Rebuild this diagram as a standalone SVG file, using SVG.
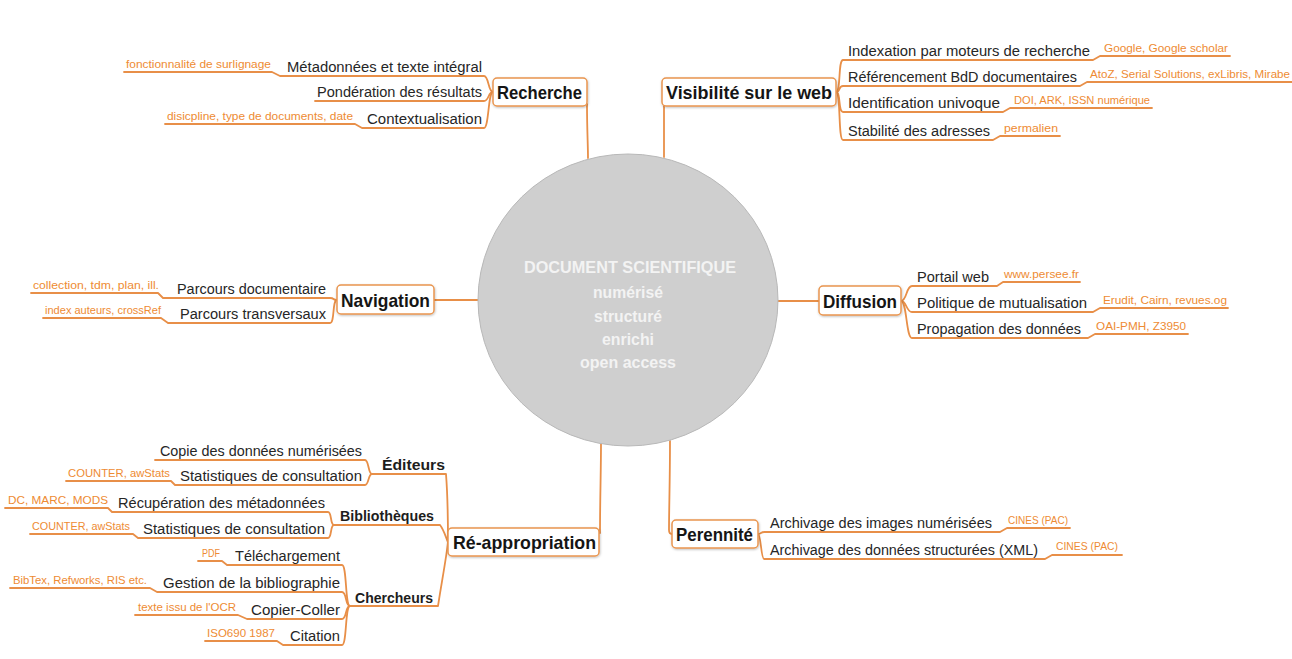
<svg xmlns="http://www.w3.org/2000/svg" width="1292" height="659" viewBox="0 0 1292 659">
<style>
.ln{fill:none;stroke:#e88f48;stroke-width:1.8;stroke-linecap:round;stroke-linejoin:round}
.box{fill:#fff;stroke:#e9954f;stroke-width:1.5}
text{font-family:"Liberation Sans",Arial,sans-serif}
.t{font-size:15.5px;fill:#262626}
.e{text-anchor:end}
.a{font-size:11px;fill:#ee8b33}
.h{font-weight:bold;font-size:19px;fill:#151515}
.s{font-weight:bold;font-size:15px;fill:#1d1d1d}
.c{font-size:17px;font-weight:bold;fill:#f3f3f3;text-anchor:middle}
</style>
<defs>
<filter id="sh" x="-10%" y="-20%" width="120%" height="150%">
<feDropShadow dx="0.5" dy="1" stdDeviation="1" flood-color="#000" flood-opacity="0.25"/>
</filter>
</defs>
<rect width="1292" height="659" fill="#fff"/>

<g id="connectors">
<path class="ln" d="M587,104 C587,130 588,145 588,158"/>
<path class="ln" d="M664,104 C664,130 664,145 664,157"/>
<path class="ln" d="M434,300 L479,300"/>
<path class="ln" d="M778,301 L819,301"/>
<path class="ln" d="M600,533 C600,500 601,470 601,444"/>
<path class="ln" d="M670,441 C670,480 669,510 669,530 C669,533 670,534 672,534"/>
<path class="ln" d="M124,72 L272,72 L280,76 L484,76 C489,76 488,92 493,92"/>
<path class="ln" d="M315,101 L484,101 C489,101 488,92 493,92"/>
<path class="ln" d="M165,124 L355,124 L362,128 L484,128 C489,128 488,92 493,92"/>
<path class="ln" d="M836,92 C841,92 838,60 843,60 L1093,60 L1100,56 L1230,56"/>
<path class="ln" d="M836,92 C841,92 838,86 843,86 L1080,86 L1087,82 L1292,82"/>
<path class="ln" d="M836,92 C841,92 838,112 843,112 L1003,112 L1010,108 L1152,108"/>
<path class="ln" d="M836,92 C841,92 838,140 843,140 L993,140 L1000,136 L1060,136"/>
<path class="ln" d="M31,293 L158,293 L163,298 L330,298 C335,298 332,300 337,300"/>
<path class="ln" d="M43,318 L161,318 L168,323 L330,323 C335,323 332,300 337,300"/>
<path class="ln" d="M901,301 C907,301 906,286 912,286 L997,286 L1003,282 L1080,282"/>
<path class="ln" d="M901,301 C907,301 906,312 912,312 L1093,312 L1100,308 L1228,308"/>
<path class="ln" d="M901,301 C907,301 906,338 912,338 L1088,338 L1095,334 L1188,334"/>
<path class="ln" d="M758,534 C761,534 761,532 764,532 L1000,532 L1007,528 L1070,528"/>
<path class="ln" d="M758,534 C761,534 761,559 764,559 L1045,559 L1052,555 L1122,555"/>
<path class="ln" d="M372,474 L446,474 C448,500 448,530 448,542"/>
<path class="ln" d="M334,525 L440,525 C444,530 446,538 448,542"/>
<path class="ln" d="M350,606 L438,606 C442,580 446,560 448,542"/>
<path class="ln" d="M155,460 L365,460 C369,460 368,474 372,474"/>
<path class="ln" d="M66,481 L171,481 L175,485 L365,485 C369,485 368,474 372,474"/>
<path class="ln" d="M5,508 L108,508 L112,512 L328,512 C332,512 330,525 334,525"/>
<path class="ln" d="M30,534 L133,534 L138,538 L328,538 C332,538 330,525 334,525"/>
<path class="ln" d="M198,561 L222,561 L227,565 L342,565 C347,565 345,606 350,606"/>
<path class="ln" d="M10,588 L150,588 L157,592 L342,592 C347,592 345,606 350,606"/>
<path class="ln" d="M135,615 L238,615 L247,619 L342,619 C347,619 345,606 350,606"/>
<path class="ln" d="M205,641 L277,641 L283,645 L342,645 C347,645 345,606 350,606"/>
</g>

<g id="centre">
<ellipse cx="628" cy="300" rx="150" ry="146" fill="#cfcfcf" stroke="#b8b8b8" stroke-width="1"/>
<text class="c" x="630" y="273" textLength="212" lengthAdjust="spacingAndGlyphs">DOCUMENT SCIENTIFIQUE</text>
<text class="c" x="628" y="298" textLength="70" lengthAdjust="spacingAndGlyphs">numérisé</text>
<text class="c" x="628" y="322" textLength="68" lengthAdjust="spacingAndGlyphs">structuré</text>
<text class="c" x="628" y="345" textLength="52" lengthAdjust="spacingAndGlyphs">enrichi</text>
<text class="c" x="628" y="368" textLength="96" lengthAdjust="spacingAndGlyphs">open access</text>
</g>

<g id="recherche">
<rect class="box" x="493" y="78" width="94" height="28" rx="4" filter="url(#sh)"/>
<text class="h" x="497" y="98.5" textLength="85" lengthAdjust="spacingAndGlyphs">Recherche</text>
<text class="t e" x="482" y="72" textLength="195" lengthAdjust="spacingAndGlyphs">Métadonnées et texte intégral</text>
<text class="a" x="126" y="68" textLength="145" lengthAdjust="spacingAndGlyphs">fonctionnalité de surlignage</text>
<text class="t e" x="482" y="97" textLength="165" lengthAdjust="spacingAndGlyphs">Pondération des résultats</text>
<text class="t e" x="482" y="124" textLength="115" lengthAdjust="spacingAndGlyphs">Contextualisation</text>
<text class="a" x="167" y="120" textLength="186" lengthAdjust="spacingAndGlyphs">disicpline, type de documents, date</text>
</g>

<g id="visibilite">
<rect class="box" x="662" y="78" width="174" height="28" rx="4" filter="url(#sh)"/>
<text class="h" x="666" y="98.5" textLength="166" lengthAdjust="spacingAndGlyphs">Visibilité sur le web</text>
<text class="t" x="848" y="56" textLength="242" lengthAdjust="spacingAndGlyphs">Indexation par moteurs de recherche</text>
<text class="a" x="1104" y="52" textLength="124" lengthAdjust="spacingAndGlyphs">Google, Google scholar</text>
<text class="t" x="848" y="82" textLength="229" lengthAdjust="spacingAndGlyphs">Référencement BdD documentaires</text>
<text class="a" x="1090" y="78" textLength="200" lengthAdjust="spacingAndGlyphs">AtoZ, Serial Solutions, exLibris, Mirabe</text>
<text class="t" x="848" y="108" textLength="152" lengthAdjust="spacingAndGlyphs">Identification univoque</text>
<text class="a" x="1014" y="104" textLength="136" lengthAdjust="spacingAndGlyphs">DOI, ARK, ISSN numérique</text>
<text class="t" x="848" y="136" textLength="142" lengthAdjust="spacingAndGlyphs">Stabilité des adresses</text>
<text class="a" x="1004" y="132" textLength="54" lengthAdjust="spacingAndGlyphs">permalien</text>
</g>

<g id="navigation">
<rect class="box" x="337" y="285" width="97" height="29" rx="4" filter="url(#sh)"/>
<text class="h" x="341" y="306.5" textLength="89" lengthAdjust="spacingAndGlyphs">Navigation</text>
<text class="t e" x="326" y="294" textLength="149" lengthAdjust="spacingAndGlyphs">Parcours documentaire</text>
<text class="a" x="33" y="289" textLength="126" lengthAdjust="spacingAndGlyphs">collection, tdm, plan, ill.</text>
<text class="t e" x="326" y="319" textLength="146" lengthAdjust="spacingAndGlyphs">Parcours transversaux</text>
<text class="a" x="45" y="314" textLength="116" lengthAdjust="spacingAndGlyphs">index auteurs, crossRef</text>
</g>

<g id="diffusion">
<rect class="box" x="819" y="286" width="82" height="29" rx="4" filter="url(#sh)"/>
<text class="h" x="823" y="307.5" textLength="74" lengthAdjust="spacingAndGlyphs">Diffusion</text>
<text class="t" x="917" y="282" textLength="72" lengthAdjust="spacingAndGlyphs">Portail web</text>
<text class="a" x="1004" y="278" textLength="75" lengthAdjust="spacingAndGlyphs">www.persee.fr</text>
<text class="t" x="917" y="308" textLength="170" lengthAdjust="spacingAndGlyphs">Politique de mutualisation</text>
<text class="a" x="1103" y="304" textLength="124" lengthAdjust="spacingAndGlyphs">Erudit, Cairn, revues.og</text>
<text class="t" x="917" y="334" textLength="164" lengthAdjust="spacingAndGlyphs">Propagation des données</text>
<text class="a" x="1096" y="330" textLength="90" lengthAdjust="spacingAndGlyphs">OAI-PMH, Z3950</text>
</g>

<g id="perennite">
<rect class="box" x="672" y="520" width="86" height="28" rx="4" filter="url(#sh)"/>
<text class="h" x="676" y="541" textLength="77" lengthAdjust="spacingAndGlyphs">Perennité</text>
<text class="t" x="770" y="528" textLength="222" lengthAdjust="spacingAndGlyphs">Archivage des images numérisées</text>
<text class="a" x="1008" y="524" textLength="60" lengthAdjust="spacingAndGlyphs">CINES (PAC)</text>
<text class="t" x="770" y="555" textLength="268" lengthAdjust="spacingAndGlyphs">Archivage des données structurées (XML)</text>
<text class="a" x="1056" y="550" textLength="62" lengthAdjust="spacingAndGlyphs">CINES (PAC)</text>
</g>

<g id="reappropriation">
<rect class="box" x="448" y="528" width="151" height="28" rx="4" filter="url(#sh)"/>
<text class="h" x="453" y="548.5" textLength="143" lengthAdjust="spacingAndGlyphs">Ré-appropriation</text>
</g>

<g id="editeurs">
<text class="s e" x="445" y="470" textLength="63" lengthAdjust="spacingAndGlyphs">Éditeurs</text>
<text class="t e" x="362" y="456" textLength="202" lengthAdjust="spacingAndGlyphs">Copie des données numérisées</text>
<text class="t e" x="362" y="481" textLength="182" lengthAdjust="spacingAndGlyphs">Statistiques de consultation</text>
<text class="a" x="68" y="477" textLength="102" lengthAdjust="spacingAndGlyphs">COUNTER, awStats</text>
</g>

<g id="bibliotheques">
<text class="s e" x="434" y="521" textLength="94" lengthAdjust="spacingAndGlyphs">Bibliothèques</text>
<text class="t e" x="325" y="508" textLength="207" lengthAdjust="spacingAndGlyphs">Récupération des métadonnées</text>
<text class="a" x="8" y="504" textLength="100" lengthAdjust="spacingAndGlyphs">DC, MARC, MODS</text>
<text class="t e" x="325" y="534" textLength="182" lengthAdjust="spacingAndGlyphs">Statistiques de consultation</text>
<text class="a" x="32" y="530" textLength="98" lengthAdjust="spacingAndGlyphs">COUNTER, awStats</text>
</g>

<g id="chercheurs">
<text class="s e" x="433" y="603" textLength="78" lengthAdjust="spacingAndGlyphs">Chercheurs</text>
<text class="t e" x="340" y="561" textLength="105" lengthAdjust="spacingAndGlyphs">Téléchargement</text>
<text class="a" x="202" y="557" textLength="18" lengthAdjust="spacingAndGlyphs">PDF</text>
<text class="t e" x="340" y="588" textLength="177" lengthAdjust="spacingAndGlyphs">Gestion de la bibliographie</text>
<text class="a" x="13" y="584" textLength="134" lengthAdjust="spacingAndGlyphs">BibTex, Refworks, RIS etc.</text>
<text class="t e" x="340" y="615" textLength="89" lengthAdjust="spacingAndGlyphs">Copier-Coller</text>
<text class="a" x="138" y="611" textLength="98" lengthAdjust="spacingAndGlyphs">texte issu de l'OCR</text>
<text class="t e" x="340" y="641" textLength="50" lengthAdjust="spacingAndGlyphs">Citation</text>
<text class="a" x="207" y="637" textLength="68" lengthAdjust="spacingAndGlyphs">ISO690 1987</text>
</g>
</svg>
